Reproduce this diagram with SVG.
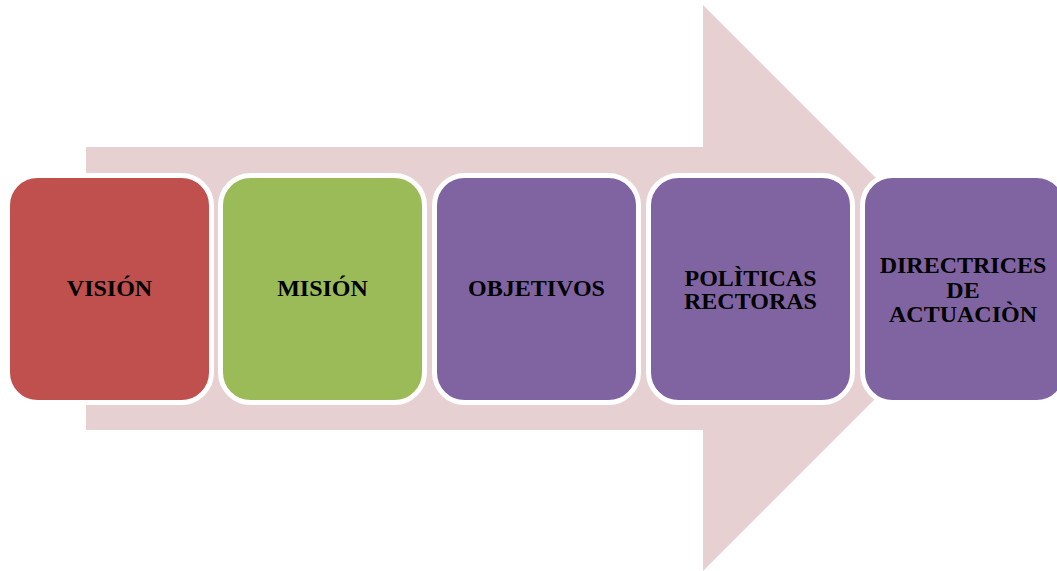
<svg xmlns="http://www.w3.org/2000/svg" width="1057" height="571" viewBox="0 0 1057 571">
<style>
.box{stroke:#FFFFFF;stroke-width:5}
.lbl{font-family:"Liberation Serif","Times New Roman",serif;font-weight:bold;font-size:24px;fill:#000000;text-anchor:middle}
</style>
<rect width="1057" height="571" fill="#FFFFFF"/>
<g id="arrow">
<polygon points="86,147 703,147 703,5 986,288 703,571 703,430 86,430" fill="#E7D0D1"/>
</g>
<g id="connectors"></g>
<g id="vision">
<rect class="box" x="7.5" y="175.5" width="204" height="227" rx="30" fill="#C0504D"/>
<text class="lbl" x="109.5" y="296">VISIÓN</text>
</g>
<g id="mision">
<rect class="box" x="220.5" y="175.5" width="204" height="227" rx="30" fill="#9BBB59"/>
<text class="lbl" x="322.5" y="296">MISIÓN</text>
</g>
<g id="objetivos">
<rect class="box" x="434.5" y="175.5" width="204" height="227" rx="30" fill="#8064A2"/>
<text class="lbl" x="536.5" y="296">OBJETIVOS</text>
</g>
<g id="politicas">
<rect class="box" x="648.5" y="175.5" width="204" height="227" rx="30" fill="#8064A2"/>
<text class="lbl" x="750.5" y="285.5">POLÌTICAS</text>
<text class="lbl" x="750.5" y="309">RECTORAS</text>
</g>
<g id="directrices">
<rect class="box" x="862.5" y="175.5" width="204" height="227" rx="30" fill="#8064A2"/>
<text class="lbl" x="963" y="273">DIRECTRICES</text>
<text class="lbl" x="963" y="297.5">DE</text>
<text class="lbl" x="963" y="322">ACTUACIÒN</text>
</g>
</svg>
